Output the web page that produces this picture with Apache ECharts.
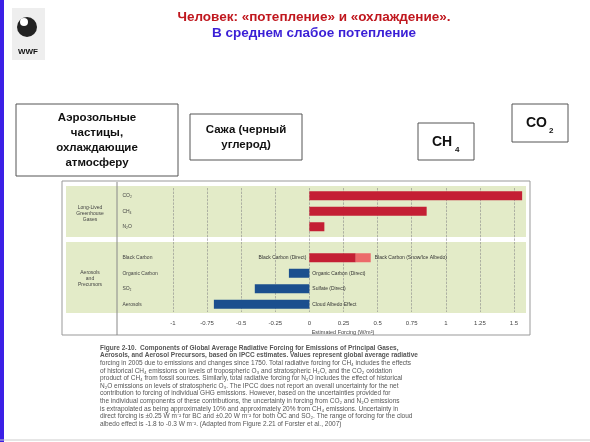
<!DOCTYPE html><html><head><meta charset="utf-8">
<script src="https://cdn.jsdelivr.net/npm/echarts@6/dist/echarts.min.js"></script>
<style>html,body{margin:0;padding:0;background:#fff}#c{width:590px;height:442px}</style></head><body><div id="c"></div>
<script>
const categories=['CO₂','CH₄','N₂O','','Black Carbon','Organic Carbon','SO₂','Aerosols'];
const mainValues=[1.56,0.86,0.11,'-',0.34,-0.15,-0.40,-0.70];
const snowValues=['-','-','-','-',0.11,'-','-','-'];
const mainLabels=['','','','','Black Carbon (Direct)','Organic Carbon (Direct)','Sulfate (Direct)','Cloud Albedo Effect'];
const tickMin=-1, tickMax=1.5, tickStep=0.25;
const caption=[
['Figure 2-10.  Components of Global Average Radiative Forcing for Emissions of Principal Gases,',true],
['Aerosols, and Aerosol Precursors, based on IPCC estimates. Values represent global average radiative',true],
['forcing in 2005 due to emissions and changes since 1750. Total radiative forcing for CH₄ includes the effects',false],
['of historical CH₄ emissions on levels of tropospheric O₃ and stratospheric H₂O, and the CO₂ oxidation',false],
['product of CH₄ from fossil sources. Similarly, total radiative forcing for N₂O includes the effect of historical',false],
['N₂O emissions on levels of stratospheric O₃. The IPCC does not report an overall uncertainty for the net',false],
['contribution to forcing of individual GHG emissions. However, based on the uncertainties provided for',false],
['the individual components of these contributions, the uncertainty in forcing from CO₂ and N₂O emissions',false],
['is extrapolated as being approximately 10% and approximately 20% from CH₄ emissions. Uncertainty in',false],
['direct forcing is ±0.25 W m⁻² for BC and ±0.20 W m⁻² for both OC and SO₂. The range of forcing for the cloud',false],
['albedo effect is -1.8 to -0.3 W m⁻². (Adapted from Figure 2.21 of Forster et al., 2007)',false]];
const F='Liberation Sans, Arial, sans-serif';
const g=[];
g.push({type:'rect',shape:{x:0,y:0,width:4,height:442},style:{fill:'#3b1fe6'}});
g.push({type:'rect',shape:{x:12,y:8,width:33,height:52},style:{fill:'#eeeeee'}});
g.push({type:'circle',shape:{cx:27,cy:27,r:10},style:{fill:'#222'}});
g.push({type:'circle',shape:{cx:24,cy:22,r:4},style:{fill:'#fff'}});
g.push({type:'text',style:{x:28,y:52,text:'WWF',font:'bold 8px '+F,fill:'#111',align:'center',verticalAlign:'middle'}});
g.push({type:'text',style:{x:314,y:17,text:'Человек: «потепление» и «охлаждение».',font:'bold 13.5px '+F,fill:'#c0171e',align:'center',verticalAlign:'middle'}});
g.push({type:'text',style:{x:314,y:33,text:'В среднем слабое потепление',font:'bold 13.5px '+F,fill:'#3a1fd6',align:'center',verticalAlign:'middle'}});
function box(x,y,w,h,txt,px){g.push({type:'rect',shape:{x:x,y:y,width:w,height:h},style:{fill:'#fff',stroke:'#555',lineWidth:1}});
 g.push({type:'text',style:{x:x+w/2,y:y+h/2,text:txt,font:'bold '+(px||11.5)+'px '+F,fill:'#111',align:'center',verticalAlign:'middle',lineHeight:15}});}
box(16,104,162,72,'Аэрозольные\nчастицы,\nохлаждающие\nатмосферу');
box(190,114,112,46,'Сажа (черный\nуглерод)');
box(418,123,56,37,'',14);
g.push({type:'text',style:{x:432,y:142,text:'CH',font:'bold 14px '+F,fill:'#111',verticalAlign:'middle'}});
g.push({type:'text',style:{x:455,y:150,text:'4',font:'bold 8px '+F,fill:'#111',verticalAlign:'middle'}});
box(512,104,56,38,'',14);
g.push({type:'text',style:{x:526,y:123,text:'CO',font:'bold 14px '+F,fill:'#111',verticalAlign:'middle'}});
g.push({type:'text',style:{x:549,y:131,text:'2',font:'bold 8px '+F,fill:'#111',verticalAlign:'middle'}});
g.push({type:'rect',z:-10,shape:{x:62,y:181,width:468,height:154},style:{fill:'#fff',stroke:'#999',lineWidth:1}});
g.push({type:'rect',z:-9,shape:{x:66,y:186,width:460,height:51},style:{fill:'#e3ebc8'}});
g.push({type:'rect',z:-9,shape:{x:66,y:242,width:460,height:71},style:{fill:'#e3ebc8'}});
g.push({type:'line',z:-8,shape:{x1:117,y1:182,x2:117,y2:335},style:{stroke:'#888',lineWidth:1}});
g.push({type:'text',style:{x:90,y:214,text:'Long-Lived\nGreenhouse\nGases',font:'5px '+F,fill:'#444',align:'center',verticalAlign:'middle',lineHeight:6}});
g.push({type:'text',style:{x:90,y:279,text:'Aerosols\nand\nPrecursors',font:'5px '+F,fill:'#444',align:'center',verticalAlign:'middle',lineHeight:6}});
g.push({type:'text',style:{x:343,y:332,text:'Estimated Forcing (W/m²)',font:'5.5px '+F,fill:'#444',align:'center',verticalAlign:'middle'}});
caption.forEach((c,i)=>g.push({type:'text',style:{x:100,y:348+i*7.6,text:c[0],font:(c[1]?'bold ':'')+'6.5px '+F,fill:'#555',verticalAlign:'middle'}}));
g.push({type:'line',shape:{x1:0,y1:440,x2:590,y2:440},style:{stroke:'#ccc',lineWidth:1}});
const chart=echarts.init(document.getElementById('c'));
chart.setOption({animation:false,graphic:g,
grid:[{left:118.4,right:62.4,top:188,bottom:130},{left:173,right:76,top:188,bottom:130}],
xAxis:[{gridIndex:0,type:'value',min:-1.4,max:1.6,show:false},
{gridIndex:1,type:'value',min:tickMin,max:tickMax,interval:tickStep,axisLine:{show:false},axisTick:{show:false},
 splitLine:{lineStyle:{type:'dashed',color:'#888',width:0.6}},axisLabel:{fontSize:6,color:'#444',margin:8,fontFamily:F}}],
yAxis:[{gridIndex:0,type:'category',data:categories,inverse:true,axisLine:{show:false},axisTick:{show:false},
 axisLabel:{inside:true,fontSize:5,color:'#444',margin:4,fontFamily:F}},
{gridIndex:1,type:'category',data:categories,show:false}],
series:[{type:'bar',xAxisIndex:0,yAxisIndex:0,stack:'a',barWidth:9,data:mainValues.map((v,i)=>({value:v,
 itemStyle:{color:(v<0?'#1b4f8e':'#c41f34')},
 label:{show:!!mainLabels[i],position:(i===4?'left':'right'),formatter:mainLabels[i],fontSize:5,color:'#333',distance:3,fontFamily:F}}))},
{type:'bar',xAxisIndex:0,yAxisIndex:0,stack:'a',barWidth:9,data:snowValues,itemStyle:{color:'#ec6a6a'},
 label:{show:true,position:'right',formatter:'Black Carbon (Snow/Ice Albedo)',fontSize:5,color:'#333',distance:4,fontFamily:F}}]});
</script></body></html>
